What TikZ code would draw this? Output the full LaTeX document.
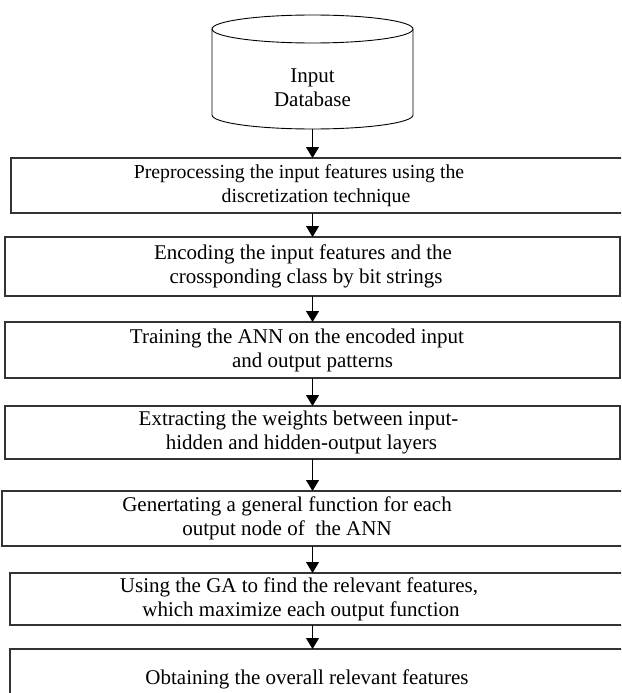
\documentclass[tikz,border=0pt]{standalone}
\usepackage{fontspec}
\setmainfont{Liberation Serif}
\usetikzlibrary{positioning,arrows.meta}

\begin{document}
\begin{tikzpicture}[
  >={Triangle[width=13pt,length=11pt]},
  every node/.style={font=\fontsize{21}{24}\selectfont},
  dbline/.style={line width=0.9pt},
  stepbox/.style={draw=black!80, line width=1.1pt, outer sep=0pt, minimum width=615pt, align=center},
  flow/.style={->, line width=0.8pt},
]
  \clip (0,0) rectangle (621pt,-693pt);
  % input database (cylinder)
  \node[minimum width=201pt, minimum height=114pt, outer sep=0pt] (db) at (312.5pt,-72pt) {};
  \draw[dbline] ([yshift=-14pt]db.north) ellipse [x radius=100.5pt, y radius=14pt];
  \draw[dbline] ([yshift=-14pt]db.north west) -- ([yshift=14pt]db.south west)
    arc[start angle=180, end angle=360, x radius=100.5pt, y radius=14pt] -- ([yshift=-14pt]db.north east);
  \node[align=center] (dbtext) at ([yshift=-16pt]db.center) {Input\\Database};
  % processing steps
  \node[stepbox, font=\fontsize{19.8}{24}\selectfont, minimum height=55pt, minimum width=621pt,
    below=29pt of db, xshift=9pt] (b1)
    {Preprocessing the input features using the\hspace*{45pt}\\discretization technique\hspace*{11pt}};
  \node[stepbox, minimum height=59pt, below=24pt of b1, xshift=-9pt] (b2)
    {Encoding the input features and the\hspace*{19pt}\\crossponding class by bit strings\hspace*{13pt}};
  \node[stepbox, minimum height=56pt, below=26pt of b2] (b3)
    {Training the ANN on the encoded input\hspace*{31pt}\\and output patterns};
  \node[stepbox, minimum height=53pt, below=28pt of b3] (b4)
    {Extracting the weights between input-\hspace*{28pt}\\hidden and hidden-output layers\hspace*{22pt}};
  \node[stepbox, minimum height=55pt, minimum width=630pt, below=32pt of b4, xshift=4.5pt] (b5)
    {Genertating a general function for each\hspace*{60pt}\\output node of~ the ANN\hspace*{60pt}};
  \node[stepbox, minimum height=52pt, minimum width=622pt, below=27pt of b5, xshift=4pt] (b6)
    {Using the GA to find the relevant features,\hspace*{44pt}\\which maximize each output function\hspace*{40pt}};
  \node[stepbox, minimum height=60pt, minimum width=622pt, below=24pt of b6] (b7)
    {Obtaining the overall relevant features\hspace*{28pt}};
  % connectors
  \draw[flow] (db) -- (db |- b1.north);
  \draw[flow] (b1.south -| db) -- (db |- b2.north);
  \draw[flow] (b2.south -| db) -- (db |- b3.north);
  \draw[flow] (b3.south -| db) -- (db |- b4.north);
  \draw[flow] (b4.south -| db) -- (db |- b5.north);
  \draw[flow] (b5.south -| db) -- (db |- b6.north);
  \draw[flow] (b6.south -| db) -- (db |- b7.north);
\end{tikzpicture}
\end{document}
